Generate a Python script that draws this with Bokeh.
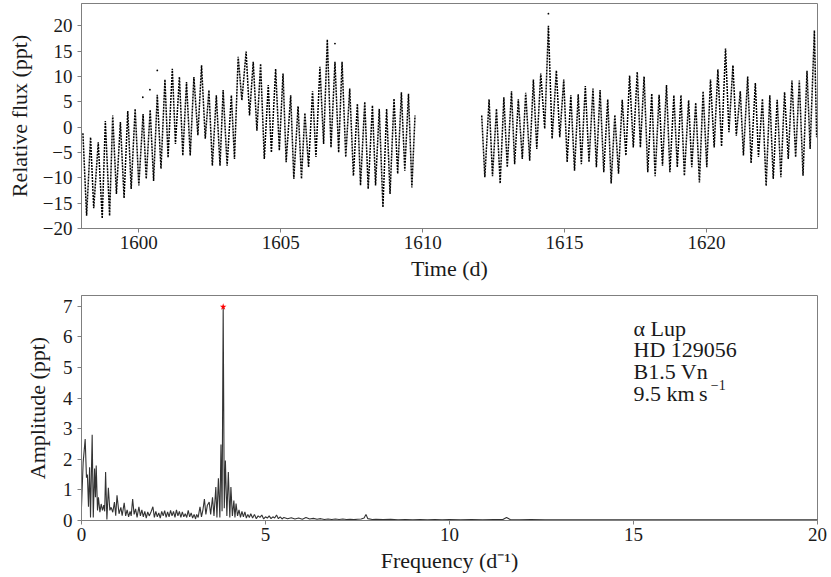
from bokeh.plotting import figure
from bokeh.layouts import column
from bokeh.models import Label, FixedTicker, Range1d
from bokeh.embed import file_html
from bokeh.resources import INLINE

# ---------------- data ----------------
# light curve: successive extrema of the pulsation (time in d, flux in ppt)
time_seg1 = [1598.03, 1598.16, 1598.30, 1598.41, 1598.57, 1598.71, 1598.82, 1598.97, 1599.08, 1599.21,
             1599.35, 1599.48, 1599.61, 1599.73, 1599.87, 1600.00, 1600.15, 1600.26, 1600.40, 1600.52,
             1600.65, 1600.78, 1600.92, 1601.03, 1601.18, 1601.29, 1601.43, 1601.55, 1601.68, 1601.81,
             1601.94, 1602.08, 1602.21, 1602.34, 1602.47, 1602.59, 1602.73, 1602.86, 1602.97, 1603.11,
             1603.26, 1603.37, 1603.50, 1603.63, 1603.78, 1603.90, 1604.03, 1604.16, 1604.29, 1604.42,
             1604.56, 1604.67, 1604.82, 1604.95, 1605.08, 1605.19, 1605.35, 1605.46, 1605.61, 1605.73,
             1605.85, 1605.98, 1606.12, 1606.24, 1606.38, 1606.51, 1606.64, 1606.77, 1606.91, 1607.04,
             1607.16, 1607.29, 1607.43, 1607.56, 1607.70, 1607.81, 1607.96, 1608.08, 1608.23, 1608.34,
             1608.47, 1608.60, 1608.73, 1608.85, 1608.99, 1609.12, 1609.25, 1609.37, 1609.50, 1609.62,
             1609.73]
flux_seg1 = [-1.2, -17.5, -2.0, -16.0, -3.0, -18.0, 1.2, -17.5, 2.3, -13.2,
             1.0, -14.0, 3.2, -12.2, 3.6, -11.5, 2.6, -10.2, 3.4, -10.6,
             6.4, -8.2, 9.4, -6.0, 11.5, -3.3, 9.9, -5.6, 8.9, -5.6,
             9.9, -1.6, 12.2, -2.3, 7.3, -7.6, 6.3, -7.6, 7.3, -7.6,
             6.3, -6.3, 13.9, 5.3, 14.9, 2.3, 12.9, -0.7, 12.5, -6.3,
             8.3, -5.0, 11.5, -4.6, 10.6, -6.9, 6.3, -10.2, 4.1, -10.2,
             2.8, -7.9, 7.1, -5.9, 11.9, -3.3, 17.3, -4.0, 12.9, -5.0,
             12.9, -5.9, 7.6, -9.6, 4.6, -11.5, 5.0, -12.2, 4.3, -11.5,
             3.6, -15.8, 3.6, -13.2, 5.6, -9.2, 6.9, -8.6, 6.6, -11.9,
             2.3]
time_seg2 = [1612.08, 1612.19, 1612.34, 1612.46, 1612.60, 1612.73, 1612.86, 1612.98, 1613.13, 1613.24,
             1613.37, 1613.51, 1613.63, 1613.77, 1613.90, 1614.02, 1614.16, 1614.30, 1614.43, 1614.56,
             1614.71, 1614.83, 1614.97, 1615.09, 1615.22, 1615.35, 1615.48, 1615.59, 1615.73, 1615.86,
             1616.00, 1616.12, 1616.25, 1616.38, 1616.52, 1616.64, 1616.77, 1616.90, 1617.03, 1617.16,
             1617.29, 1617.42, 1617.56, 1617.67, 1617.80, 1617.93, 1618.07, 1618.19, 1618.33, 1618.45,
             1618.59, 1618.71, 1618.85, 1618.97, 1619.10, 1619.22, 1619.37, 1619.48, 1619.62, 1619.75,
             1619.88, 1620.01, 1620.14, 1620.27, 1620.40, 1620.53, 1620.67, 1620.79, 1620.93, 1621.05,
             1621.19, 1621.30, 1621.45, 1621.57, 1621.72, 1621.83, 1621.97, 1622.10, 1622.23, 1622.35,
             1622.49, 1622.62, 1622.75, 1622.88, 1623.01, 1623.14, 1623.27, 1623.40, 1623.54, 1623.65,
             1623.80, 1623.88]
flux_seg2 = [2.3, -9.9, 5.5, -9.7, 3.6, -11.1, 5.9, -7.9, 7.1, -7.3,
             5.5, -6.3, 6.8, -6.6, 9.4, -4.3, 10.6, -0.3, 20.0, -2.3,
             11.2, -2.0, 9.4, -6.9, 6.3, -8.6, 6.5, -7.3, 8.1, -6.9,
             7.6, -7.9, 7.3, -8.9, 5.5, -11.1, 2.4, -9.2, 5.4, -5.6,
             10.2, -4.0, 10.9, -4.0, 10.0, -8.9, 6.6, -9.7, 6.4, -7.6,
             8.3, -8.9, 6.3, -7.9, 6.3, -9.6, 5.3, -7.9, 4.8, -10.9,
             7.1, -7.9, 9.4, -4.0, 11.4, -3.8, 15.5, -1.0, 12.2, -1.7,
             7.1, -5.6, 10.0, -7.1, 8.7, -5.9, 5.6, -11.6, 6.3, -10.2,
             5.4, -9.9, 6.9, -6.3, 9.2, -5.9, 9.2, -9.6, 11.1, -4.3,
             19.1, -2.0]
outlier_time = [1600.14, 1600.39, 1600.65, 1606.91, 1614.43]
outlier_flux = [5.9, 7.4, 11.2, 16.5, 22.4]

# amplitude spectrum (frequency in 1/d, amplitude in ppt)
freq = [0.00, 0.045, 0.10, 0.135, 0.16, 0.19, 0.22, 0.245, 0.29, 0.32,
        0.355, 0.38, 0.40, 0.435, 0.46, 0.50, 0.535, 0.57, 0.605, 0.63,
        0.655, 0.69, 0.73, 0.77, 0.805, 0.85, 0.895, 0.93, 0.965, 1.02,
        1.07, 1.105, 1.16, 1.20, 1.24, 1.28, 1.32, 1.35, 1.39, 1.43,
        1.47, 1.51, 1.56, 1.60, 1.64, 1.68, 1.72, 1.76, 1.80, 1.84,
        1.88, 1.94, 1.98, 2.02, 2.06, 2.10, 2.14, 2.18, 2.22, 2.26,
        2.30, 2.34, 2.38, 2.42, 2.46, 2.50, 2.54, 2.58, 2.62, 2.66,
        2.70, 2.74, 2.78, 2.82, 2.86, 2.90, 2.94, 2.98, 3.02, 3.06,
        3.10, 3.13, 3.17, 3.22, 3.26, 3.30, 3.34, 3.38, 3.42, 3.47,
        3.51, 3.56, 3.60, 3.65, 3.68, 3.72, 3.76, 3.79, 3.82, 3.85,
        3.88, 3.91, 3.95, 3.99, 4.03, 4.06, 4.10, 4.14, 4.17, 4.20,
        4.24, 4.28, 4.32, 4.36, 4.40, 4.44, 4.48, 4.52, 4.56, 4.60,
        4.65, 4.70, 4.75, 4.80, 4.85, 4.90, 4.95, 5.00, 5.05, 5.10,
        5.15, 5.20, 5.25, 5.30, 5.35, 5.40, 5.45, 5.50, 5.60, 5.70,
        5.80, 5.90, 6.00, 6.10, 6.20, 6.30, 6.40, 6.50, 6.60, 6.70,
        6.80, 6.90, 7.00, 7.10, 7.20, 7.30, 7.40, 7.50, 7.60, 7.68,
        7.73, 7.78, 7.90, 8.00, 8.20, 8.40, 8.60, 8.80, 9.00, 9.20,
        9.40, 9.60, 9.80, 10.00, 10.30, 10.60, 10.90, 11.20, 11.45, 11.55,
        11.65, 11.90, 12.20, 12.60, 13.00, 13.50, 14.00, 14.50, 15.00, 15.50,
        16.00, 16.50, 17.00, 17.50, 18.00, 18.50, 19.00, 19.50, 20.00]
amp = [0.45, 1.90, 2.66, 1.40, 1.50, 0.45, 1.74, 0.10, 2.80, 0.10,
       1.70, 0.76, 1.80, 0.33, 0.76, 0.27, 0.54, 0.33, 0.50, 0.30,
       1.58, 0.03, 1.07, 0.33, 0.43, 0.27, 0.60, 0.16, 0.82, 0.22,
       0.43, 0.16, 0.58, 0.15, 0.35, 0.12, 0.30, 0.15, 0.70, 0.20,
       0.38, 0.10, 0.45, 0.15, 0.35, 0.12, 0.30, 0.08, 0.28, 0.15,
       0.25, 0.45, 0.10, 0.30, 0.12, 0.25, 0.08, 0.30, 0.15, 0.32,
       0.10, 0.28, 0.12, 0.33, 0.15, 0.30, 0.10, 0.35, 0.15, 0.30,
       0.10, 0.28, 0.12, 0.22, 0.10, 0.33, 0.12, 0.25, 0.08, 0.20,
       0.05, 0.20, 0.10, 0.45, 0.12, 0.35, 0.70, 0.20, 0.50, 0.60,
       0.20, 0.76, 0.15, 1.09, 0.10, 1.38, 0.10, 2.48, 0.30, 6.98,
       0.40, 1.96, 0.15, 1.58, 0.10, 1.09, 0.15, 0.65, 0.10, 0.55,
       0.15, 0.35, 0.10, 0.30, 0.12, 0.28, 0.08, 0.20, 0.10, 0.22,
       0.08, 0.20, 0.06, 0.15, 0.10, 0.18, 0.05, 0.12, 0.08, 0.15,
       0.06, 0.12, 0.08, 0.18, 0.06, 0.12, 0.05, 0.10, 0.06, 0.09,
       0.05, 0.08, 0.04, 0.10, 0.05, 0.07, 0.04, 0.06, 0.03, 0.05,
       0.03, 0.05, 0.03, 0.05, 0.03, 0.04, 0.03, 0.04, 0.05, 0.08,
       0.20, 0.06, 0.03, 0.04, 0.03, 0.04, 0.02, 0.03, 0.02, 0.03,
       0.02, 0.03, 0.02, 0.03, 0.02, 0.03, 0.02, 0.03, 0.03, 0.10,
       0.03, 0.02, 0.03, 0.02, 0.02, 0.02, 0.02, 0.02, 0.02, 0.02,
       0.02, 0.02, 0.02, 0.02, 0.02, 0.02, 0.02, 0.02, 0.02]
peak_freq = [3.85]
peak_amp = [6.98]

time_ticks = [1600, 1605, 1610, 1615, 1620]
flux_ticks = [-20, -15, -10, -5, 0, 5, 10, 15, 20]
freq_ticks = [0, 5, 10, 15, 20]
amp_ticks = [0, 1, 2, 3, 4, 5, 6, 7]
star_info = ["\u03b1 Lup", "HD 129056", "B1.5 Vn", "9.5 km\u2009s"]
star_info_sup = "\u22121"

# ---------------- styling ----------------
FONT = "Liberation Serif"
FRAME = "#7f7f7f"
INK = "#1a1a1a"


def minus_labels(ticks):
    return {t: (("\u2212" + str(abs(t))) if t < 0 else str(t)) for t in ticks}


def style(p):
    p.outline_line_color = FRAME
    p.outline_line_width = 1
    p.grid.grid_line_color = None
    p.background_fill_color = "white"
    p.border_fill_color = "white"
    for ax in p.axis:
        ax.axis_line_color = FRAME
        ax.major_tick_line_color = FRAME
        ax.major_tick_out = 4
        ax.major_tick_in = 0
        ax.minor_tick_line_color = None
        ax.major_label_text_font = FONT
        ax.major_label_text_font_size = "19px"
        ax.major_label_text_color = INK
        ax.major_label_standoff = 3
        ax.axis_label_text_font = FONT
        ax.axis_label_text_font_size = "22px"
        ax.axis_label_text_font_style = "normal"
        ax.axis_label_text_color = INK
        ax.axis_label_standoff = 4


# ---------------- top: light curve ----------------
p1 = figure(width=829, height=288, output_backend="svg", toolbar_location=None,
            x_range=Range1d(1597.98, 1623.91), y_range=Range1d(-20, 24.4),
            min_border_left=81, min_border_right=12, min_border_top=3, min_border_bottom=60)
for t, f in ((time_seg1, flux_seg1), (time_seg2, flux_seg2)):
    p1.line(t, f, line_color="black", line_width=1.5, line_dash="2 1")
p1.scatter(outlier_time, outlier_flux, size=1.8, color="black", line_width=0)
p1.xaxis.axis_label = "Time (d)"
p1.yaxis.axis_label = "Relative flux (ppt)"
p1.xaxis.ticker = FixedTicker(ticks=time_ticks)
p1.yaxis.ticker = FixedTicker(ticks=flux_ticks)
p1.yaxis.major_label_overrides = minus_labels(flux_ticks)
style(p1)
p1.yaxis.major_label_standoff = 5
p1.yaxis.axis_label_standoff = 8

# ---------------- bottom: amplitude spectrum ----------------
p2 = figure(width=829, height=289, output_backend="svg", toolbar_location=None,
            x_range=Range1d(0, 20), y_range=Range1d(0, 7.35),
            min_border_left=81, min_border_right=12, min_border_top=7, min_border_bottom=57)
p2.line(freq, amp, line_color="#333333", line_width=1.1)
p2.scatter(peak_freq, peak_amp, marker="star", size=7, color="red", line_width=0)
p2.xaxis.axis_label = "Frequency (d\u207b\u00b9)"
p2.yaxis.axis_label = "Amplitude (ppt)"
p2.xaxis.ticker = FixedTicker(ticks=freq_ticks)
p2.yaxis.ticker = FixedTicker(ticks=amp_ticks)
style(p2)
p2.yaxis.major_label_standoff = 5
p2.yaxis.axis_label_standoff = 10

for txt, yy in zip(star_info, [6.27, 5.57, 4.87, 4.15]):
    p2.add_layout(Label(x=15.0, y=yy, text=txt, text_font=FONT, text_font_size="22px",
                        text_color=INK, text_baseline="alphabetic"))
p2.add_layout(Label(x=17.1, y=4.42, text=star_info_sup, text_font=FONT, text_font_size="14px",
                    text_color=INK, text_baseline="alphabetic"))

layout = column(p1, p2, spacing=0)
open("out.html", "w").write(file_html(layout, INLINE))
